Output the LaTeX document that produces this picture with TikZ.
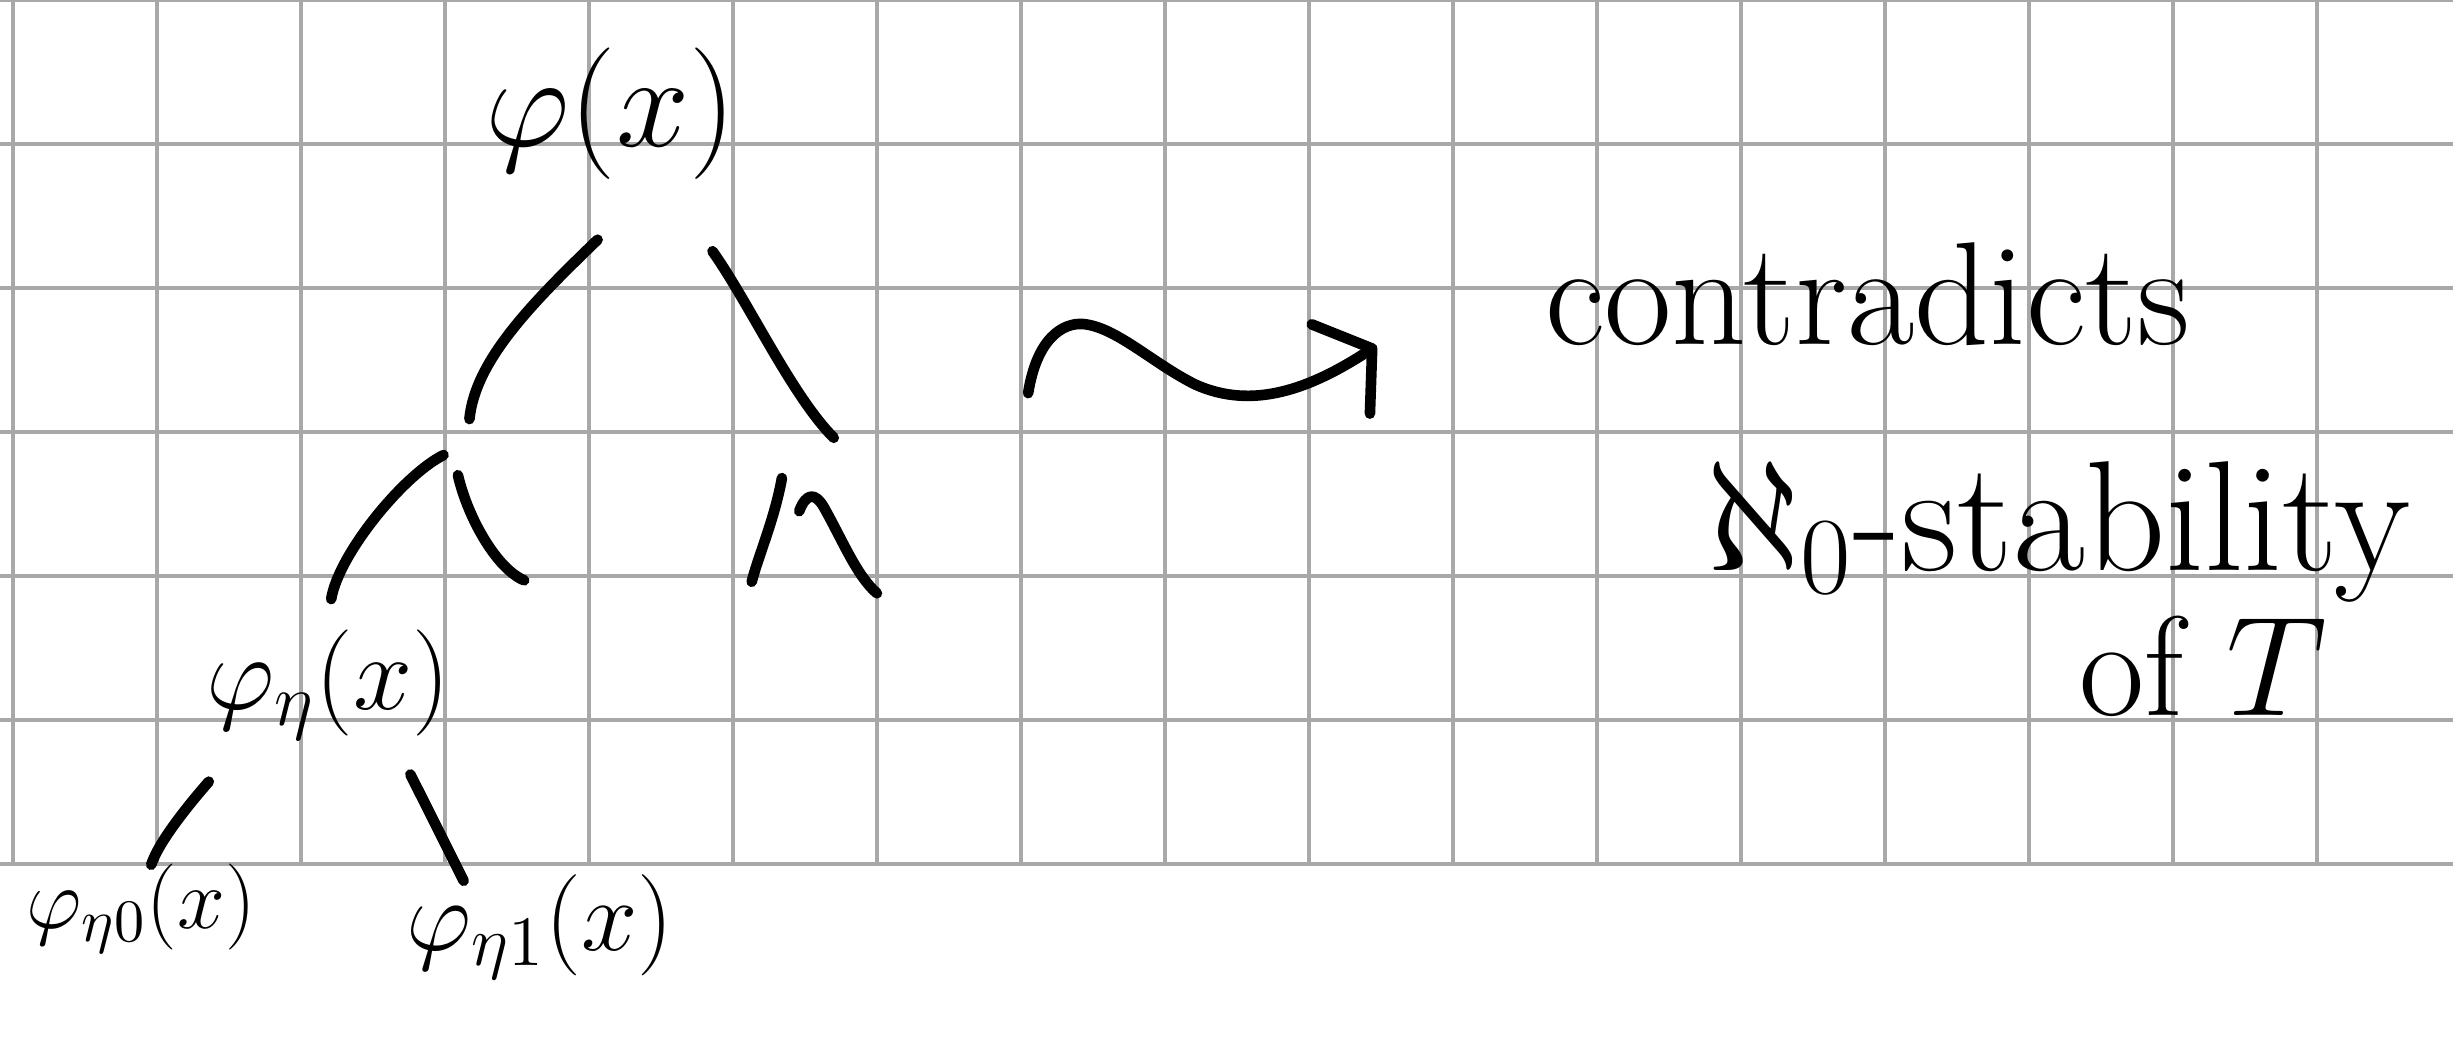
\RequirePackage{fix-cm}
\documentclass[tikz,border=0pt]{standalone}
\usepackage{xcolor}
\usepackage{tikz}
\usetikzlibrary{arrows.meta,calc}
\definecolor{gridgray}{HTML}{A8A8A8}
\tikzset{
  hand/.style={inner sep=0pt, anchor=base},
  pen/.style={line width=2.1pt, line cap=round, line join=round},
  gridln/.style={draw=gridgray, line width=0.8pt},
}

\begin{document}
\begin{tikzpicture}
    \useasboundingbox (0,0) rectangle (17.035,-7.222);
    \fill[white] (0,0) rectangle (17.035,-7.222);
    % squared paper
    \foreach \i in {0,...,16} { \draw[gridln] (0.087+\i,0) -- (0.087+\i,-6); }
    \foreach \j in {0,...,6} { \draw[gridln] (0,-\j) -- (17.035,-\j); }
    % tree of formulas
    \node[hand, font=\fontsize{26}{30}\selectfont] (phi)     at (4.24,-1.02) {$\varphi(x)$};
    \node[hand, font=\fontsize{21}{25}\selectfont] (phieta)  at (2.28,-4.93) {$\varphi_\eta(x)$};
    \node[hand, font=\fontsize{17}{20}\selectfont] (phieta0) at (0.98,-6.45) {$\varphi_{\eta 0}(x)$};
    \node[hand, font=\fontsize{20}{24}\selectfont] (phieta1) at (3.75,-6.60) {$\varphi_{\eta 1}(x)$};
    \coordinate (pl) at (3.26,-2.91);
    \coordinate (pr) at (5.79,-3.04);
    \coordinate (ls) at (3.08,-3.16);
    \coordinate (ms) at (3.18,-3.30);
    \coordinate (me) at (3.64,-4.03);
    \coordinate (rs) at (5.43,-3.32);
    \coordinate (re) at (5.22,-4.04);
    \coordinate (ws) at (5.55,-3.55);
    \coordinate (we) at (6.09,-4.12);
    \draw[pen] ([shift={(-0.09,-0.41)}]phi.south) .. controls (3.7,-2.1) and (3.3,-2.5) .. (pl);
    \draw[pen] ([shift={(-0.17,-0.49)}]phi.south east) .. controls (5.2,-2.1) and (5.5,-2.75) .. (pr);
    \draw[pen] (ls) .. controls (2.8,-3.3) and (2.35,-3.85) .. ([shift={(0.02,0.21)}]phieta.north);
    \draw[pen] (ms) .. controls (3.25,-3.6) and (3.45,-3.95) .. (me);
    \draw[pen] (rs) .. controls (5.38,-3.6) and (5.27,-3.85) .. (re);
    \draw[pen] (ws) .. controls (5.6,-3.42) and (5.66,-3.42) .. (5.72,-3.52)
                    .. controls (5.85,-3.75) and (5.95,-4.0) .. (we);
    \draw[pen] ([shift={(-0.83,-0.28)}]phieta.south) .. controls (1.3,-5.6) and (1.1,-5.85) .. ([shift={(0.07,-0.01)}]phieta0.north);
    \draw[pen] ([shift={(0.57,-0.23)}]phieta.south) -- ([shift={(-0.53,-0.05)}]phieta1.north);
    % leads to
    \coordinate (sqs) at (7.14,-2.73);
    \coordinate (sqe) at (9.56,-2.40);
    \draw[pen, -{Straight Barb[length=2.6mm, width=7.4mm, round]}] (sqs)
        .. controls (7.2,-2.35) and (7.38,-2.24) .. (7.52,-2.25)
        .. controls (7.75,-2.27) and (8.0,-2.52) .. (8.3,-2.67)
        .. controls (8.7,-2.85) and (9.1,-2.7) .. (sqe);
    % conclusion
    \node[hand, font=\fontsize{29}{34}\selectfont] (contra) at (12.97,-2.39) {contradicts};
    \node[hand, font=\fontsize{31}{36}\selectfont] (stab)   at (14.29,-3.96) {$\aleph_0$-stability};
    \node[hand, font=\fontsize{28}{34}\selectfont] (ofT)    at (15.30,-4.97) {of $T$};
\end{tikzpicture}
\end{document}
